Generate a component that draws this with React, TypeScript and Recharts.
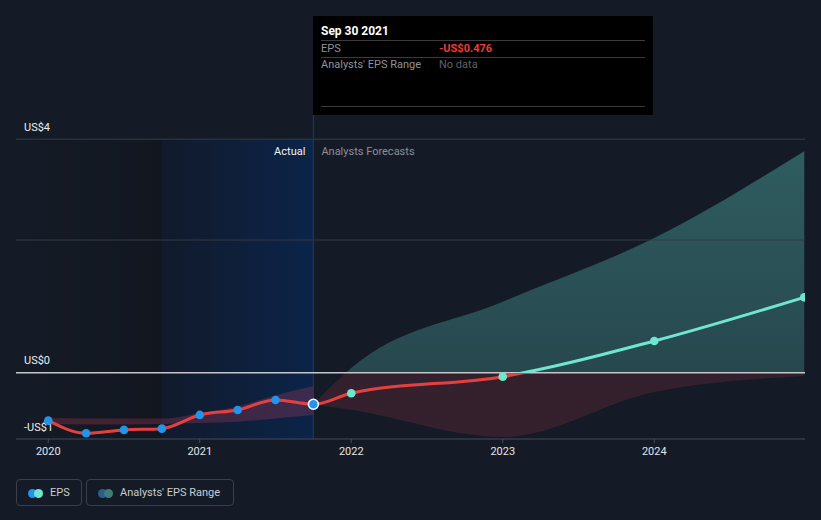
import React from 'react';
import { ComposedChart, Line, Area, XAxis, YAxis, ReferenceArea, ReferenceLine } from 'recharts';

// ---- data ----
const actualDates = [2020.0, 2020.25, 2020.5, 2020.75, 2021.0, 2021.25, 2021.5, 2021.75];
const actualEps = [-0.723, -0.913, -0.863, -0.844, -0.637, -0.562, -0.411, -0.476];
const forecastDates = [2022.0, 2023.0, 2024.0, 2024.99];
const forecastEps = [-0.31, -0.06, 0.478, 1.136];

const pastRangeDates = [2020.0, 2020.25, 2020.5, 2020.75, 2021.0, 2021.25, 2021.5, 2021.75];
const pastRangeLow = [-0.775, -0.78, -0.78, -0.775, -0.76, -0.74, -0.69, -0.64];
const pastRangeHigh = [-0.685, -0.69, -0.69, -0.69, -0.61, -0.51, -0.34, -0.2];

const forecastRangeDates = [2021.75, 2022.0, 2023.0, 2024.0, 2024.99];
const forecastRangeLow = [-0.476, -0.56, -0.97, -0.29, -0.05];
const forecastRangeHigh = [-0.476, 0.07, 1.07, 2.03, 3.34];

const xTicks = [2020, 2021, 2022, 2023, 2024];
const yTickValues = [3.52, 0, -1];
const yTickLabels = ['US$4', 'US$0', '-US$1'];
const gridValues = [3.52, 2];
const xDomain = [2019.787, 2024.995];
const yDomain = [-1, 3.9];
const shadeTop = 3.52;
const actualWindowStart = 2020.75;
const actualWindowEnd = 2021.75;

const tooltipTitle = 'Sep 30 2021';
const tooltipEps = '-US$0.476';

// ---- derived series ----
const epsData = [
  ...actualDates.map((x, i) => ({ x, eps: actualEps[i], kind: i === actualDates.length - 1 ? 'last' : 'actual' })),
  ...forecastDates.map((x, i) => ({ x, eps: forecastEps[i], kind: 'forecast' })),
];
const pastBand = pastRangeDates.map((x, i) => ({ x, range: [pastRangeLow[i], pastRangeHigh[i]] }));
const forecastBand = forecastRangeDates.map((x, i) => ({ x, range: [forecastRangeLow[i], forecastRangeHigh[i]] }));

const epsVals = epsData.map((d) => d.eps);
const epsMax = Math.max(...epsVals);
const epsMin = Math.min(...epsVals);
const lineZero = epsMax / (epsMax - epsMin);

const bandMax = Math.max(...forecastRangeHigh);
const bandMin = Math.min(...forecastRangeLow);
const bandZero = bandMax / (bandMax - bandMin);

const RED = '#e5403f';
const TEAL = '#6ee6d0';
const BLUE = '#2394ea';
const BG = '#151b26';
const FONT = 'Roboto, "Noto Sans", sans-serif';

const renderDot = (props: any) => {
  const { cx, cy, payload, index } = props;
  if (cx == null || cy == null) return <g key={`d${index}`} />;
  if (payload.kind === 'last') {
    return <circle key={`d${index}`} cx={cx} cy={cy} r={5} fill={BLUE} stroke="#ffffff" strokeWidth={1.5} />;
  }
  return <circle key={`d${index}`} cx={cx} cy={cy} r={4.3} fill={payload.kind === 'forecast' ? TEAL : BLUE} />;
};

const YLabel = (props: any) => {
  const { viewBox, text } = props;
  if (!viewBox) return null;
  return (
    <text x={viewBox.x + 8} y={viewBox.y - 12} fill="#eceef0" fontSize={11} fontFamily={FONT} dominantBaseline="central">
      {text}
    </text>
  );
};

const SplitLabel = (props: any) => {
  const { viewBox } = props;
  if (!viewBox) return null;
  const xr = viewBox.x + viewBox.width;
  const y = viewBox.y + 12;
  return (
    <g fontFamily={FONT} fontSize={11}>
      <text x={xr - 8} y={y} fill="#f2f3f5" textAnchor="end" dominantBaseline="central">Actual</text>
      <text x={xr + 8} y={y} fill="#8a8f98" textAnchor="start" dominantBaseline="central">Analysts Forecasts</text>
    </g>
  );
};

const LegendItem = ({ label, c1, c2, left, width }: any) => (
  <div
    style={{
      position: 'absolute', left, top: 479, width, height: 27, boxSizing: 'border-box',
      border: '1px solid #3a3f4b', borderRadius: 4, fontFamily: FONT, fontSize: 11, color: '#c9ccd1',
    }}
  >
    <span style={{ position: 'absolute', left: 11, top: 8.5, width: 9, height: 9, borderRadius: '50%', background: c1 }} />
    <span style={{ position: 'absolute', left: 17, top: 8.5, width: 9, height: 9, borderRadius: '50%', background: c2 }} />
    <span style={{ position: 'absolute', left: 33, top: 0, lineHeight: '26px' }}>{label}</span>
  </div>
);

export default function App() {
  return (
    <div style={{ position: 'absolute', left: 0, top: 0, width: 821, height: 520, background: BG, overflow: 'hidden' }}>
      <ComposedChart width={821} height={520} margin={{ top: 114, right: 16, bottom: 51, left: 16 }}>
        <defs>
          <linearGradient id="pastShade" x1="0" y1="0" x2="1" y2="0">
            <stop offset="0" stopColor="#000000" stopOpacity={0} />
            <stop offset="1" stopColor="#000000" stopOpacity={0.18} />
          </linearGradient>
          <linearGradient id="actualShade" x1="0" y1="0" x2="1" y2="0">
            <stop offset="0" stopColor="#111a2b" />
            <stop offset="1" stopColor="#0b2449" />
          </linearGradient>
          <linearGradient id="epsStroke" x1="0" y1="0" x2="0" y2="1">
            <stop offset="0" stopColor={TEAL} />
            <stop offset={lineZero} stopColor={TEAL} />
            <stop offset={lineZero} stopColor={RED} />
            <stop offset="1" stopColor={RED} />
          </linearGradient>
          <linearGradient id="bandFill" x1="0" y1="0" x2="0" y2="1">
            <stop offset="0" stopColor="#58c8be" stopOpacity={0.38} />
            <stop offset={bandZero} stopColor="#58c8be" stopOpacity={0.26} />
            <stop offset={bandZero} stopColor="#e04050" stopOpacity={0.15} />
            <stop offset="1" stopColor="#e04050" stopOpacity={0.15} />
          </linearGradient>
        </defs>
        <XAxis
          dataKey="x"
          type="number"
          domain={xDomain}
          ticks={xTicks}
          allowDataOverflow
          height={30}
          tickSize={4}
          tickMargin={4}
          axisLine={{ stroke: '#454b57' }}
          tickLine={{ stroke: '#454b57' }}
          tick={{ fill: '#e2e4e7', fontSize: 11, fontFamily: FONT }}
          tickFormatter={(v: number) => String(Math.round(v))}
        />
        <YAxis hide type="number" domain={yDomain} allowDataOverflow />
        <ReferenceArea x1={xDomain[0]} x2={actualWindowStart} y1={yDomain[0]} y2={shadeTop} fill="url(#pastShade)" fillOpacity={1} stroke="none" ifOverflow="hidden" />
        <ReferenceArea x1={actualWindowStart} x2={actualWindowEnd} y1={yDomain[0]} y2={shadeTop} fill="url(#actualShade)" fillOpacity={1} stroke="none" label={<SplitLabel />} />
        {gridValues.map((v, i) => (
          <ReferenceLine key={`g${i}`} y={v} stroke="#353b47" strokeWidth={1} label={i === 0 ? <YLabel text={yTickLabels[0]} /> : undefined} />
        ))}
        <ReferenceLine x={actualWindowEnd} stroke="#1d3b69" strokeWidth={1} />
        <Area data={pastBand} dataKey="range" type="monotone" stroke="none" fill="#db4263" fillOpacity={0.24} isAnimationActive={false} activeDot={false} />
        <Area data={forecastBand} dataKey="range" type="monotone" stroke="none" fill="url(#bandFill)" fillOpacity={1} isAnimationActive={false} activeDot={false} />
        <ReferenceLine y={yTickValues[1]} stroke="#c4c6ca" strokeWidth={1.5} label={<YLabel text={yTickLabels[1]} />} />
        <ReferenceLine y={yTickValues[2]} stroke="none" label={<YLabel text={yTickLabels[2]} />} />
        <Line data={epsData} dataKey="eps" type="monotone" stroke="url(#epsStroke)" strokeWidth={3} dot={renderDot} activeDot={false} isAnimationActive={false} />
      </ComposedChart>

      <div
        style={{
          position: 'absolute', left: 313, top: 16, width: 340, height: 99, background: '#000000',
          fontFamily: FONT, fontSize: 11, boxSizing: 'border-box',
        }}
      >
        <div style={{ position: 'absolute', left: 8, top: 8, color: '#ffffff', fontWeight: 700, fontSize: 12 }}>{tooltipTitle}</div>
        <div style={{ position: 'absolute', left: 8, right: 8, top: 24, borderTop: '1px solid #3b3b3b' }} />
        <div style={{ position: 'absolute', left: 8, top: 26, color: '#8f939a', lineHeight: '14px' }}>EPS</div>
        <div style={{ position: 'absolute', left: 126, top: 26, color: '#ee3b3b', fontWeight: 700, lineHeight: '14px' }}>{tooltipEps}</div>
        <div style={{ position: 'absolute', left: 8, right: 8, top: 41, borderTop: '1px solid #3b3b3b' }} />
        <div style={{ position: 'absolute', left: 8, top: 42, color: '#8f939a', lineHeight: '14px' }}>Analysts' EPS Range</div>
        <div style={{ position: 'absolute', left: 126, top: 42, color: '#5d6168', lineHeight: '14px' }}>No data</div>
        <div style={{ position: 'absolute', left: 8, right: 8, top: 90, borderTop: '1px solid #3b3b3b' }} />
      </div>

      <LegendItem label="EPS" c1={BLUE} c2={TEAL} left={16} width={66} />
      <LegendItem label="Analysts' EPS Range" c1="#2a5e8c" c2="#3e7d79" left={86} width={148} />
    </div>
  );
}
